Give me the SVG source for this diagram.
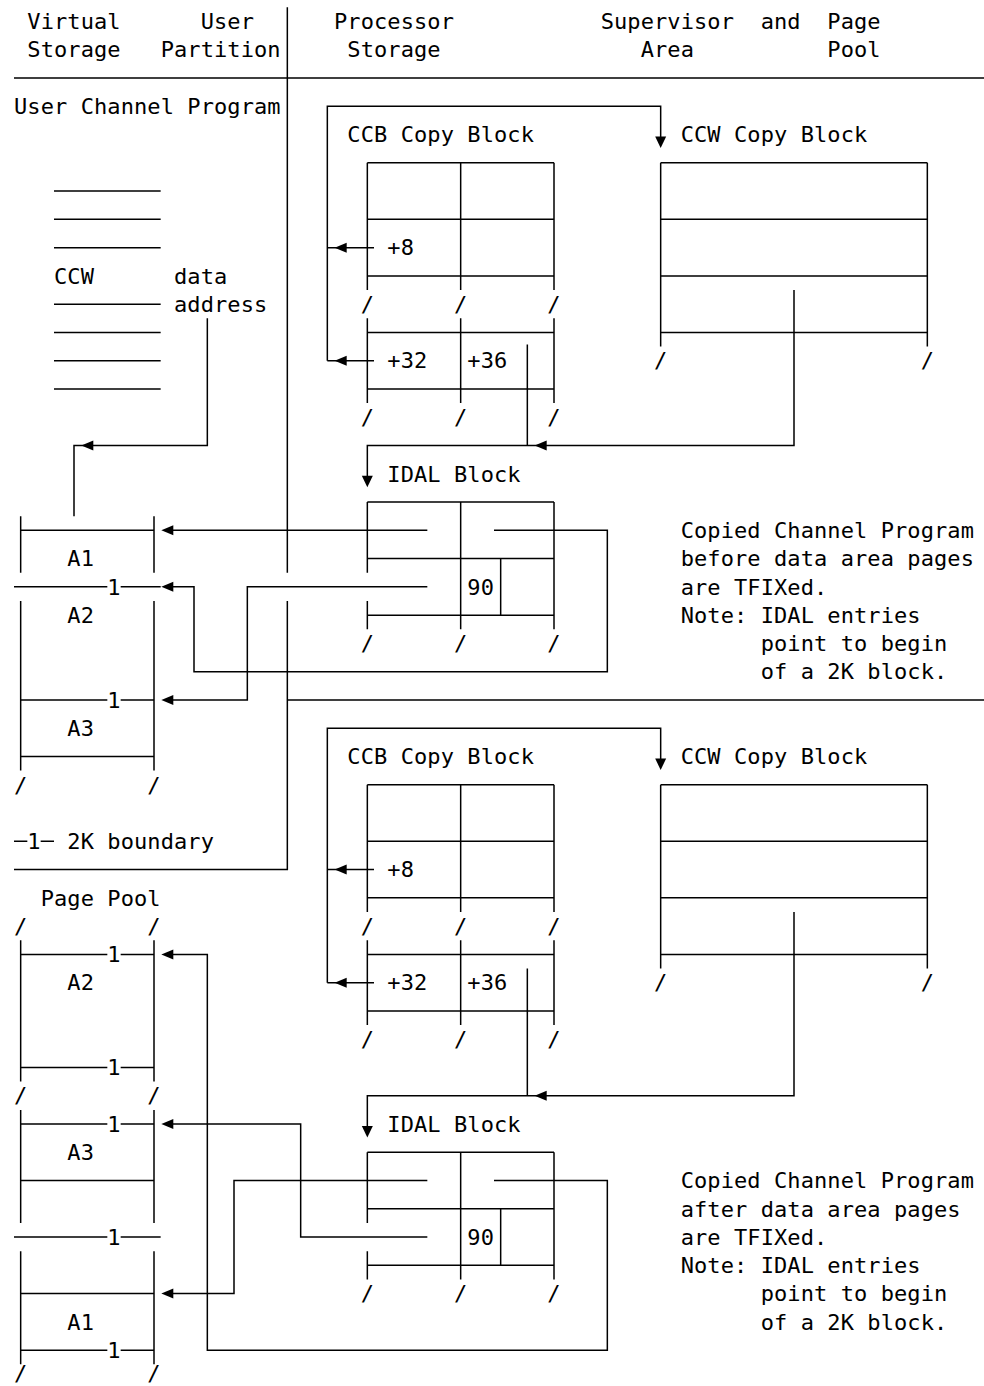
<svg xmlns="http://www.w3.org/2000/svg" xmlns:xlink="http://www.w3.org/1999/xlink" width="984" height="1386" viewBox="0 0 984 1386">
<style>
text{font-family:"DejaVu Sans Mono","Liberation Mono",monospace;font-size:22px;letter-spacing:0.09px;fill:#000}
.ln{fill:none;stroke:#000;stroke-width:1.5}
.ah{fill:#000;stroke:none}
</style>
<defs>
<path id="la" class="ah" d="M-6,0L6,-5L6,5Z"/>
<path id="da" class="ah" d="M-5.5,0H5.5L0,11.5Z"/>
</defs>
<rect width="984" height="1386" fill="#fff"/>

<g id="header">
<text x="27.3" y="29.2">Virtual</text>
<text x="200.7" y="29.2">User</text>
<text x="334" y="29.2">Processor</text>
<text x="600.7" y="29.2">Supervisor</text>
<text x="760.7" y="29.2">and</text>
<text x="827.3" y="29.2">Page</text>
<text x="27.3" y="57.4">Storage</text>
<text x="160.7" y="57.4">Partition</text>
<text x="347.3" y="57.4">Storage</text>
<text x="640.7" y="57.4">Area</text>
<text x="827.3" y="57.4">Pool</text>
<path class="ln" d="M14,78 H984 M287.33,7.3 V572.7 M287.33,601 V869.57 H14 M287.33,699.95 H984"/>
</g>

<g id="user-channel-program">
<text x="14" y="114">User Channel Program</text>
<path class="ln" d="M54,191.09H160.67 M54,219.36H160.67 M54,247.63H160.67 M54,304.17H160.67 M54,332.44H160.67 M54,360.71H160.67 M54,388.98H160.67"/>
<text x="54" y="283.6">CCW</text>
<text x="174" y="283.6">data</text>
<text x="174" y="311.9">address</text>
</g>

<g id="user-partition-areas">
<path class="ln" d="M20.67,516.2V572.7 M154,516.2V572.7 M20.67,601V770.6 M154,601V770.6
M20.67,530.33H154 M14,586.87H107.33 M120.67,586.87H160.67 M20.67,699.95H107.33 M120.67,699.95H154 M20.67,756.49H154"/>
<text x="107.33" y="594.6">1</text>
<text x="107.33" y="707.7">1</text>
<text x="67.33" y="566.3">A1</text>
<text x="67.33" y="622.8">A2</text>
<text x="67.33" y="735.9">A3</text>
<text x="14" y="792.5">/</text>
<text x="147.33" y="792.5">/</text>
</g>

<g id="legend">
<path class="ln" d="M14,841.3H27.33 M40.67,841.3H54"/>
<text x="27.33" y="849">1</text>
<text x="67.33" y="849">2K boundary</text>
</g>

<g id="page-pool">
<text x="40.67" y="905.5">Page Pool</text>
<text x="14" y="933.8">/</text>
<text x="147.33" y="933.8">/</text>
<path class="ln" d="M20.67,940.2V1081.6 M154,940.2V1081.6 M20.67,1109.9V1222.9 M154,1109.9V1222.9 M20.67,1251.2V1364.3 M154,1251.2V1364.3
M20.67,954.38H107.33 M120.67,954.38H154
M20.67,1067.46H107.33 M120.67,1067.46H154
M20.67,1124H107.33 M120.67,1124H154
M20.67,1180.54H154
M14,1237.08H107.33 M120.67,1237.08H160.67
M20.67,1293.62H154
M20.67,1350.16H107.33 M120.67,1350.16H154"/>
<text x="107.33" y="962.1">1</text>
<text x="107.33" y="1075.2">1</text>
<text x="107.33" y="1131.7">1</text>
<text x="107.33" y="1244.8">1</text>
<text x="107.33" y="1357.9">1</text>
<text x="67.33" y="990.4">A2</text>
<text x="67.33" y="1160">A3</text>
<text x="67.33" y="1329.6">A1</text>
<text x="14" y="1103.4">/</text>
<text x="147.33" y="1103.4">/</text>
<text x="14" y="1380.5">/</text>
<text x="147.33" y="1380.5">/</text>
</g>

<g id="ccb-copy-block-1">
<text x="347.33" y="142.25">CCB Copy Block</text>
<path class="ln" d="M367.33,162.82V290 M460.67,162.82V290 M554,162.82V290 M367.33,318.3V403.1 M460.67,318.3V403.1 M554,318.3V403.1
M367.33,162.82H554 M367.33,219.36H554 M367.33,275.9H554 M367.33,332.44H554 M367.33,388.98H554"/>
<text x="387.33" y="255.3">+8</text>
<text x="387.33" y="368.4">+32</text>
<text x="467.33" y="368.4">+36</text>
<text x="360.67" y="311.9">/</text>
<text x="454" y="311.9">/</text>
<text x="547.33" y="311.9">/</text>
<text x="360.67" y="424.95">/</text>
<text x="454" y="424.95">/</text>
<text x="547.33" y="424.95">/</text>
</g>

<g id="ccw-copy-block-1">
<text x="680.67" y="142.25">CCW Copy Block</text>
<path class="ln" d="M660.67,162.82V346.6 M927.33,162.82V346.6 M660.67,162.82H927.33 M660.67,219.36H927.33 M660.67,275.9H927.33 M660.67,332.44H927.33"/>
<text x="654" y="368.4">/</text>
<text x="920.67" y="368.4">/</text>
</g>

<g id="idal-block-1">
<text x="387.33" y="481.5">IDAL Block</text>
<path class="ln" d="M367.33,502.06V572.7 M367.33,601V629.3 M460.67,502.06V629.3 M554,502.06V629.3 M500.67,558.6V615.14
M367.33,502.06H554 M367.33,558.6H554 M367.33,615.14H554"/>
<text x="467.33" y="594.6">90</text>
<text x="360.67" y="651.1">/</text>
<text x="454" y="651.1">/</text>
<text x="547.33" y="651.1">/</text>
</g>

<g id="note-before">
<text x="680.67" y="538">Copied Channel Program</text>
<text x="680.67" y="566.3">before data area pages</text>
<text x="680.67" y="594.6">are TFIXed.</text>
<text x="680.67" y="622.8">Note: IDAL entries</text>
<text x="760.67" y="651.1">point to begin</text>
<text x="760.67" y="679.4">of a 2K block.</text>
</g>

<g id="ccb-copy-block-2">
<text x="347.33" y="764.2">CCB Copy Block</text>
<path class="ln" d="M367.33,784.76V912 M460.67,784.76V912 M554,784.76V912 M367.33,940.2V1025.1 M460.67,940.2V1025.1 M554,940.2V1025.1
M367.33,784.76H554 M367.33,841.3H554 M367.33,897.84H554 M367.33,954.38H554 M367.33,1010.92H554"/>
<text x="387.33" y="877.3">+8</text>
<text x="387.33" y="990.4">+32</text>
<text x="467.33" y="990.4">+36</text>
<text x="360.67" y="933.8">/</text>
<text x="454" y="933.8">/</text>
<text x="547.33" y="933.8">/</text>
<text x="360.67" y="1046.9">/</text>
<text x="454" y="1046.9">/</text>
<text x="547.33" y="1046.9">/</text>
</g>

<g id="ccw-copy-block-2">
<text x="680.67" y="764.2">CCW Copy Block</text>
<path class="ln" d="M660.67,784.76V968.5 M927.33,784.76V968.5 M660.67,784.76H927.33 M660.67,841.3H927.33 M660.67,897.84H927.33 M660.67,954.38H927.33"/>
<text x="654" y="990.4">/</text>
<text x="920.67" y="990.4">/</text>
</g>

<g id="idal-block-2">
<text x="387.33" y="1131.7">IDAL Block</text>
<path class="ln" d="M367.33,1152.27V1222.9 M367.33,1251.2V1279.5 M460.67,1152.27V1279.5 M554,1152.27V1279.5 M500.67,1208.81V1265.35
M367.33,1152.27H554 M367.33,1208.81H554 M367.33,1265.35H554"/>
<text x="467.33" y="1244.8">90</text>
<text x="360.67" y="1301.3">/</text>
<text x="454" y="1301.3">/</text>
<text x="547.33" y="1301.3">/</text>
</g>

<g id="note-after">
<text x="680.67" y="1188.2">Copied Channel Program</text>
<text x="680.67" y="1216.5">after data area pages</text>
<text x="680.67" y="1244.8">are TFIXed.</text>
<text x="680.67" y="1273">Note: IDAL entries</text>
<text x="760.67" y="1301.3">point to begin</text>
<text x="760.67" y="1329.6">of a 2K block.</text>
</g>

<g id="connectors">
<path class="ln" d="M207.33,318.3V445.52H74V516.2"/>
<use xlink:href="#la" x="87.33" y="445.52"/>

<path class="ln" d="M327.33,360.71V106.28H660.67V137 M327.33,247.63H374 M327.33,360.71H374"/>
<use xlink:href="#da" x="660.67" y="136.55"/>
<use xlink:href="#la" x="340.67" y="247.63"/>
<use xlink:href="#la" x="340.67" y="360.71"/>

<path class="ln" d="M527.33,344.6V445.52 M794,290V445.52H367.33V476"/>
<use xlink:href="#la" x="540.67" y="445.52"/>
<use xlink:href="#da" x="367.33" y="475.8"/>

<path class="ln" d="M427.33,530.33H167.33"/>
<use xlink:href="#la" x="167.33" y="530.33"/>
<path class="ln" d="M494,530.33H607.33V671.68H194V586.87H167.33"/>
<use xlink:href="#la" x="167.33" y="586.87"/>
<path class="ln" d="M427.33,586.87H247.33V699.95H167.33"/>
<use xlink:href="#la" x="167.33" y="699.95"/>

<path class="ln" d="M327.33,982.65V728.22H660.67V759 M327.33,869.57H374 M327.33,982.65H374"/>
<use xlink:href="#da" x="660.67" y="758.5"/>
<use xlink:href="#la" x="340.67" y="869.57"/>
<use xlink:href="#la" x="340.67" y="982.65"/>

<path class="ln" d="M527.33,968.5V1095.73 M794,912V1095.73H367.33V1126"/>
<use xlink:href="#la" x="540.67" y="1095.73"/>
<use xlink:href="#da" x="367.33" y="1126"/>

<path class="ln" d="M494,1180.54H607.33V1350.16H207.33V954.38H167.33"/>
<use xlink:href="#la" x="167.33" y="954.38"/>
<path class="ln" d="M427.33,1180.54H234V1293.62H167.33"/>
<use xlink:href="#la" x="167.33" y="1293.62"/>
<path class="ln" d="M427.33,1237.08H300.67V1124H167.33"/>
<use xlink:href="#la" x="167.33" y="1124"/>
</g>
</svg>
